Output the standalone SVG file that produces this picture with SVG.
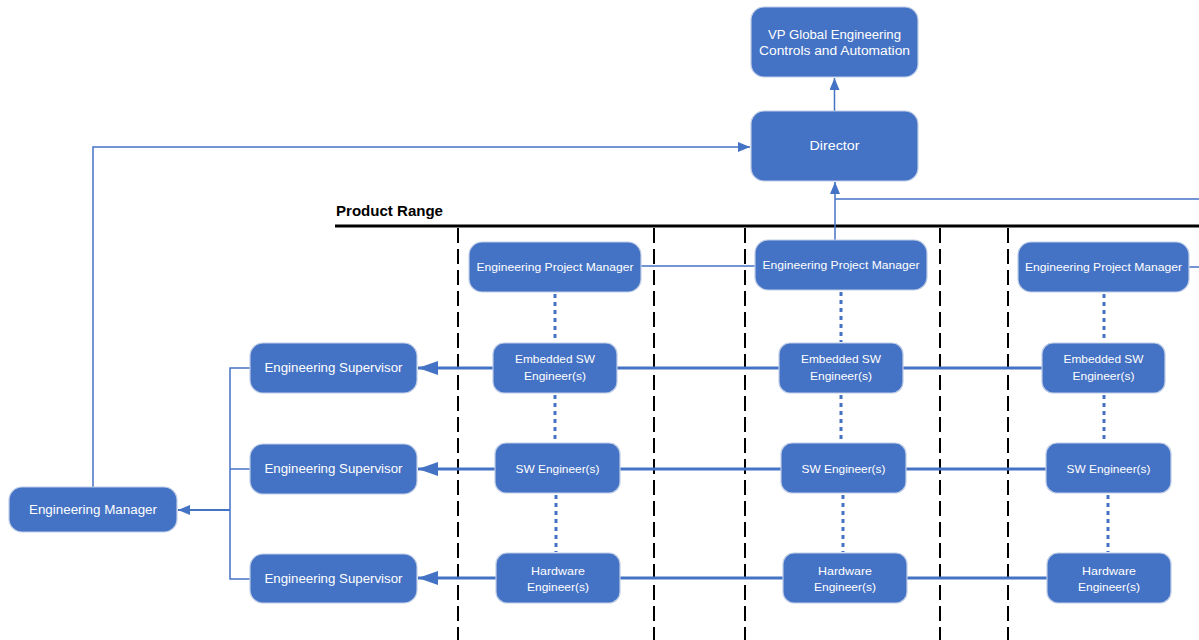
<svg xmlns="http://www.w3.org/2000/svg" width="1199" height="640" viewBox="0 0 1199 640">
<style>
.n{fill:#4472C4;stroke:#BFCDE6;stroke-width:1.2}
.t{fill:#fff;font-family:"Liberation Sans",Arial,sans-serif;text-anchor:middle;font-size:12.5px}
.s{font-size:11.5px}
.thin{fill:none;stroke:#4472C4;stroke-width:1.5}
.thick{fill:none;stroke:#4472C4;stroke-width:3}
.dot{fill:none;stroke:#4472C4;stroke-width:3;stroke-dasharray:4 4}
.dash{fill:none;stroke:#000;stroke-width:2;stroke-dasharray:15 6}
</style>
<defs>
<marker id="a" markerUnits="userSpaceOnUse" markerWidth="12" markerHeight="10" viewBox="0 0 12 10" refX="12" refY="5" orient="auto"><path d="M0,0L12,5L0,10z" fill="#4472C4"/></marker>
<marker id="b" markerUnits="userSpaceOnUse" markerWidth="20" markerHeight="14" viewBox="0 0 20 14" refX="20" refY="7" orient="auto"><path d="M0,0L20,7L0,14z" fill="#4472C4"/></marker>
</defs>
<g id="lanes">
<line class="dash" x1="458" y1="228" x2="458" y2="640"/>
<line class="dash" x1="654" y1="228" x2="654" y2="640"/>
<line class="dash" x1="745" y1="228" x2="745" y2="640"/>
<line class="dash" x1="940" y1="228" x2="940" y2="640"/>
<line class="dash" x1="1008" y1="228" x2="1008" y2="640"/>
<line x1="335" y1="226" x2="1199" y2="226" stroke="#000" stroke-width="3"/>
<text x="336" y="216" font-family="'Liberation Sans',Arial,sans-serif" font-weight="bold" font-size="14" textLength="107" lengthAdjust="spacingAndGlyphs">Product Range</text>
</g>
<g id="connectors">
<line class="thin" x1="834.5" y1="111" x2="834.5" y2="78" marker-end="url(#a)"/>
<line class="thin" x1="835" y1="240" x2="835" y2="182" marker-end="url(#a)"/>
<line class="thin" x1="835" y1="199" x2="1199" y2="199"/>
<polyline class="thin" points="93,487 93,147 750,147" marker-end="url(#a)"/>
<line class="thin" x1="641" y1="266" x2="755" y2="266"/>
<line class="thin" x1="1189" y1="267" x2="1199" y2="267"/>
<polyline class="thin" points="250,368 230,368 230,579 250,579"/>
<line class="thin" x1="230" y1="469" x2="250" y2="469"/>
<line x1="230" y1="510" x2="178" y2="510" stroke="#4472C4" stroke-width="2" marker-end="url(#a)"/>
<line class="thick" x1="1042" y1="368" x2="418" y2="368" marker-end="url(#b)"/>
<line class="thick" x1="1046" y1="469" x2="418" y2="469" marker-end="url(#b)"/>
<line class="thick" x1="1047" y1="578" x2="418" y2="578" marker-end="url(#b)"/>
<line class="dot" x1="555" y1="294" x2="555" y2="342"/>
<line class="dot" x1="555" y1="395" x2="555" y2="442"/>
<line class="dot" x1="556" y1="495" x2="556" y2="552"/>
<line class="dot" x1="841" y1="292" x2="841" y2="342"/>
<line class="dot" x1="841" y1="395" x2="841" y2="442"/>
<line class="dot" x1="843" y1="495" x2="843" y2="552"/>
<line class="dot" x1="1104" y1="294" x2="1104" y2="342"/>
<line class="dot" x1="1104" y1="395" x2="1104" y2="442"/>
<line class="dot" x1="1108" y1="495" x2="1108" y2="552"/>
</g>
<g id="vp"><rect class="n" x="751" y="7" width="167" height="70" rx="13"/><text class="t" x="834.5" y="39" textLength="133" lengthAdjust="spacingAndGlyphs">VP Global Engineering</text><text class="t" x="834.5" y="55" textLength="151" lengthAdjust="spacingAndGlyphs">Controls and Automation</text></g>
<g id="director"><rect class="n" x="751" y="111" width="167" height="70" rx="13"/><text class="t" x="834.5" y="150" textLength="50" lengthAdjust="spacingAndGlyphs">Director</text></g>
<g id="epm1"><rect class="n" x="469" y="242" width="172" height="50" rx="13"/><text class="t s" x="555" y="271" textLength="157" lengthAdjust="spacingAndGlyphs">Engineering Project Manager</text></g>
<g id="epm2"><rect class="n" x="755" y="240" width="172" height="50" rx="13"/><text class="t s" x="841" y="269" textLength="157" lengthAdjust="spacingAndGlyphs">Engineering Project Manager</text></g>
<g id="epm3"><rect class="n" x="1018" y="242" width="171" height="50" rx="13"/><text class="t s" x="1103.5" y="271" textLength="157" lengthAdjust="spacingAndGlyphs">Engineering Project Manager</text></g>
<g id="emb1"><rect class="n" x="493" y="343" width="124" height="50" rx="11"/><text class="t s" x="555" y="363" textLength="80" lengthAdjust="spacingAndGlyphs">Embedded SW</text><text class="t s" x="555" y="380" textLength="62" lengthAdjust="spacingAndGlyphs">Engineer(s)</text></g>
<g id="emb2"><rect class="n" x="779" y="343" width="124" height="50" rx="11"/><text class="t s" x="841" y="363" textLength="80" lengthAdjust="spacingAndGlyphs">Embedded SW</text><text class="t s" x="841" y="380" textLength="62" lengthAdjust="spacingAndGlyphs">Engineer(s)</text></g>
<g id="emb3"><rect class="n" x="1042" y="343" width="123" height="50" rx="11"/><text class="t s" x="1103.5" y="363" textLength="80" lengthAdjust="spacingAndGlyphs">Embedded SW</text><text class="t s" x="1103.5" y="380" textLength="62" lengthAdjust="spacingAndGlyphs">Engineer(s)</text></g>
<g id="sw1"><rect class="n" x="495" y="443" width="125" height="50" rx="11"/><text class="t s" x="557.5" y="473" textLength="84" lengthAdjust="spacingAndGlyphs">SW Engineer(s)</text></g>
<g id="sw2"><rect class="n" x="781" y="443" width="125" height="50" rx="11"/><text class="t s" x="843.5" y="473" textLength="84" lengthAdjust="spacingAndGlyphs">SW Engineer(s)</text></g>
<g id="sw3"><rect class="n" x="1046" y="443" width="125" height="50" rx="11"/><text class="t s" x="1108.5" y="473" textLength="84" lengthAdjust="spacingAndGlyphs">SW Engineer(s)</text></g>
<g id="hw1"><rect class="n" x="496" y="553" width="124" height="50" rx="11"/><text class="t s" x="558" y="575" textLength="54" lengthAdjust="spacingAndGlyphs">Hardware</text><text class="t s" x="558" y="591" textLength="62" lengthAdjust="spacingAndGlyphs">Engineer(s)</text></g>
<g id="hw2"><rect class="n" x="783" y="553" width="124" height="50" rx="11"/><text class="t s" x="845" y="575" textLength="54" lengthAdjust="spacingAndGlyphs">Hardware</text><text class="t s" x="845" y="591" textLength="62" lengthAdjust="spacingAndGlyphs">Engineer(s)</text></g>
<g id="hw3"><rect class="n" x="1047" y="553" width="124" height="50" rx="11"/><text class="t s" x="1109" y="575" textLength="54" lengthAdjust="spacingAndGlyphs">Hardware</text><text class="t s" x="1109" y="591" textLength="62" lengthAdjust="spacingAndGlyphs">Engineer(s)</text></g>
<g id="sup1"><rect class="n" x="250" y="343" width="167" height="50" rx="13"/><text class="t" x="333.5" y="372" textLength="138" lengthAdjust="spacingAndGlyphs">Engineering Supervisor</text></g>
<g id="sup2"><rect class="n" x="250" y="444" width="167" height="50" rx="13"/><text class="t" x="333.5" y="473" textLength="138" lengthAdjust="spacingAndGlyphs">Engineering Supervisor</text></g>
<g id="sup3"><rect class="n" x="250" y="554" width="167" height="49" rx="13"/><text class="t" x="333.5" y="583" textLength="138" lengthAdjust="spacingAndGlyphs">Engineering Supervisor</text></g>
<g id="em"><rect class="n" x="9" y="487" width="168" height="45" rx="13"/><text class="t" x="93" y="514" textLength="128" lengthAdjust="spacingAndGlyphs">Engineering Manager</text></g>
</svg>
